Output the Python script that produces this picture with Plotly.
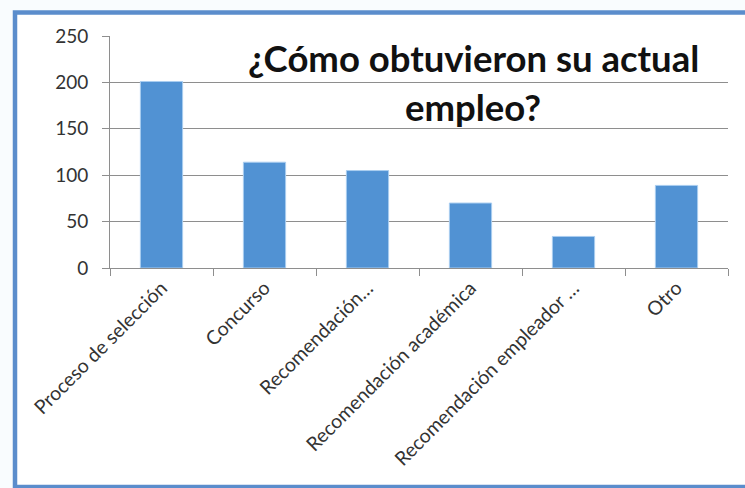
import plotly.graph_objects as go

# Survey answers: how respondents got their current job
categorias = [
    "Proceso de selección",
    "Concurso",
    "Recomendación…",
    "Recomendación académica",
    "Recomendación empleador …",
    "Otro",
]
respuestas = [201, 114, 105, 70, 34, 89]
y_ticks = [0, 50, 100, 150, 200, 250]

titulo_l1 = "¿Cómo obtuvieron su actual"
titulo_l2 = "empleo?"

W, H = 745, 488
ML, MR, MT, MB = 110, 17, 36, 220
PW, PH = W - ML - MR, H - MT - MB

def px_x(x):
    return (x - ML) / PW

def px_y(y):
    return (H - MB - y) / PH

FONT = "Lato, 'Open Sans', sans-serif"
GRID = "#8e8e8e"

fig = go.Figure(
    go.Bar(
        x=categorias,
        y=respuestas,
        marker=dict(color="#5192d3", line=dict(color="#a9cdf0", width=1)),
        width=0.41,
    )
)

# Blue frame around the chart
fig.add_shape(
    type="rect", xref="paper", yref="paper",
    x0=px_x(15), x1=px_x(752), y0=px_y(487), y1=px_y(12.5),
    line=dict(color="#5b8dcc", width=4.5), fillcolor="white", layer="below",
)

fig.add_annotation(
    text=titulo_l1, xref="paper", yref="paper", x=px_x(473), y=px_y(58),
    showarrow=False, xanchor="center", yanchor="middle",
    font=dict(family=FONT, size=36.5, color="#111111", weight="bold"),
)
fig.add_annotation(
    text=titulo_l2, xref="paper", yref="paper", x=px_x(473), y=px_y(107),
    showarrow=False, xanchor="center", yanchor="middle",
    font=dict(family=FONT, size=36.5, color="#111111", weight="bold"),
)

fig.update_layout(
    width=W, height=H,
    margin=dict(l=ML, r=MR, t=MT, b=MB, pad=0),
    paper_bgcolor="#f9fcfe",
    plot_bgcolor="rgba(0,0,0,0)",
    showlegend=False,
    font=dict(family=FONT, size=19, color="#333333"),
)
fig.update_xaxes(
    type="category",
    tickangle=-45,
    tickson="boundaries",
    ticks="outside", ticklen=7, tickcolor=GRID,
    showline=True, linecolor=GRID, linewidth=1,
    showgrid=False,
    tickfont=dict(family=FONT, size=19.5, color="#333333"),
)
fig.update_yaxes(
    range=[0, 250],
    tickvals=y_ticks,
    ticks="outside", ticklen=7, tickcolor=GRID,
    showline=True, linecolor=GRID, linewidth=1,
    showgrid=True, gridcolor=GRID, gridwidth=1,
    zeroline=False,
    ticklabelstandoff=10,
    tickfont=dict(family=FONT, size=19, color="#333333"),
)

fig.write_html("out.html")
